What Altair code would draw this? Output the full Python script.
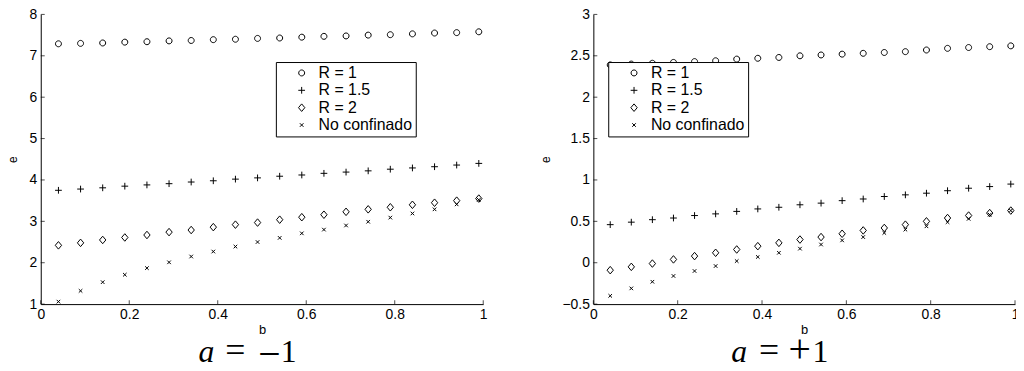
import altair as alt
import pandas as pd

# ---------------- data ----------------
B = [0.04, 0.09, 0.14, 0.19, 0.24, 0.29, 0.34, 0.39, 0.44, 0.49,
     0.54, 0.59, 0.64, 0.69, 0.74, 0.79, 0.84, 0.89, 0.94, 0.99]

SERIES = ["R = 1", "R = 1.5", "R = 2", "No confinado"]

# a = -1
L_R1 = [7.29, 7.30, 7.31, 7.33, 7.34, 7.36, 7.37, 7.39, 7.40, 7.42,
        7.43, 7.45, 7.47, 7.48, 7.50, 7.51, 7.53, 7.55, 7.56, 7.58]
L_R15 = [3.75, 3.78, 3.81, 3.85, 3.88, 3.91, 3.95, 3.98, 4.02, 4.05,
         4.09, 4.12, 4.16, 4.19, 4.22, 4.26, 4.29, 4.32, 4.36, 4.40]
L_R2 = [2.42, 2.48, 2.55, 2.61, 2.67, 2.74, 2.79, 2.86, 2.92, 2.97,
        3.04, 3.10, 3.16, 3.23, 3.29, 3.34, 3.40, 3.45, 3.50, 3.55]
L_NC = [1.06, 1.32, 1.53, 1.71, 1.87, 2.01, 2.15, 2.27, 2.39, 2.50,
        2.60, 2.71, 2.80, 2.90, 2.99, 3.09, 3.19, 3.29, 3.41, 3.52]

# a = +1
R_R1 = [2.39, 2.40, 2.41, 2.42, 2.43, 2.44, 2.46, 2.47, 2.48, 2.50,
        2.51, 2.52, 2.53, 2.54, 2.55, 2.57, 2.59, 2.60, 2.61, 2.62]
R_R15 = [0.46, 0.49, 0.52, 0.54, 0.57, 0.59, 0.62, 0.65, 0.67, 0.70,
         0.72, 0.75, 0.77, 0.80, 0.82, 0.84, 0.87, 0.90, 0.92, 0.95]
R_R2 = [-0.09, -0.05, -0.01, 0.04, 0.08, 0.12, 0.16, 0.20, 0.24, 0.28,
        0.31, 0.35, 0.39, 0.42, 0.46, 0.50, 0.54, 0.57, 0.60, 0.63]
R_NC = [-0.40, -0.31, -0.23, -0.16, -0.10, -0.04, 0.02, 0.07, 0.12, 0.17,
        0.22, 0.27, 0.31, 0.36, 0.40, 0.44, 0.49, 0.53, 0.58, 0.63]

X_TICKS = [0, 0.2, 0.4, 0.6, 0.8, 1]
Y_TICKS_LEFT = [1, 2, 3, 4, 5, 6, 7, 8]
Y_TICKS_RIGHT = [-0.5, 0, 0.5, 1, 1.5, 2, 2.5, 3]

# panel captions, split into glyphs: a  =  sign  1
TITLE_LEFT = ["a", "=", "\u2212", "1"]
TITLE_RIGHT = ["a", "=", "+", "1"]

# ---------------- styling ----------------
SHAPES = [
    "M0.75,0A0.75,0.75 0 1,1 -0.75,0A0.75,0.75 0 1,1 0.75,0Z",
    "M-0.85,0L0.85,0M0,-0.85L0,0.85",
    "M0,-0.95L0.8,0L0,0.95L-0.8,0Z",
    "M-0.45,-0.45L0.45,0.45M-0.45,0.45L0.45,-0.45",
]
SANS = "Liberation Sans"
SERIF = "Liberation Serif"
H = 292
CAPTION_SIZES = [32, 36, 40, 32]


def long_df(vals):
    rows = []
    for s, ys in zip(SERIES, vals):
        for b, e in zip(B, ys):
            rows.append({"b": b, "e": e, "series": s})
    return pd.DataFrame(rows)


def panel(df, ydom, yticks, width, height, legx, legy, title, tx, ty, tdy):
    xs = alt.Scale(domain=[0, 1], nice=False, zero=False)
    ys = alt.Scale(domain=ydom, nice=False, zero=False)
    xax = alt.Axis(values=X_TICKS, format="~g", title="b")
    yax = alt.Axis(values=yticks, format="~g", title="e")
    pts = alt.Chart(df).mark_point(
        filled=False, color="black", opacity=1, size=64, strokeWidth=1
    ).encode(
        x=alt.X("b:Q", scale=xs, axis=xax),
        y=alt.Y("e:Q", scale=ys, axis=yax),
        shape=alt.Shape(
            "series:N",
            scale=alt.Scale(domain=SERIES, range=SHAPES),
            legend=alt.Legend(
                title=None, orient="none", legendX=legx, legendY=legy,
                fillColor="white", strokeColor="black", padding=3,
                labelFont=SANS, labelFontSize=16, labelColor="black",
                symbolSize=64, symbolStrokeColor="black",
                symbolFillColor="transparent", symbolStrokeWidth=1,
                symbolOffset=15, labelOffset=9, rowPadding=1.5,
                cornerRadius=0,
            ),
        ),
    )
    ytk = alt.Chart(pd.DataFrame({"e": yticks})).mark_tick(
        orient="horizontal", size=4, thickness=1, color="black"
    ).encode(y=alt.Y("e:Q", scale=ys, axis=yax), x=alt.value(2))
    xtk = alt.Chart(pd.DataFrame({"b": X_TICKS})).mark_tick(
        orient="vertical", size=4, thickness=1, color="black"
    ).encode(x=alt.X("b:Q", scale=xs, axis=xax), y=alt.value(height - 2))
    base = alt.Chart(pd.DataFrame({"k": [0]}))
    layers = [pts, ytk, xtk]
    for i, (txt, x, fs, dy) in enumerate(zip(title, tx, CAPTION_SIZES, tdy)):
        layers.append(
            base.mark_text(
                text=txt, font=SERIF, fontSize=fs, align="center",
                baseline="alphabetic", color="black", dy=dy,
                fontStyle="italic" if i == 0 else "normal",
            ).encode(x=alt.value(x), y=alt.value(ty))
        )
    return alt.layer(*layers).properties(width=width, height=height)


left = panel(long_df([L_R1, L_R15, L_R2, L_NC]), [1, 8], Y_TICKS_LEFT,
             446, H, 237, 48, TITLE_LEFT, (167, 196, 230.5, 250), 350,
             (0, 0, 5, 0))
right = panel(long_df([R_R1, R_R15, R_R2, R_NC]), [-0.5, 3], Y_TICKS_RIGHT,
              425, H, 15, 48, TITLE_RIGHT, (147, 177, 208, 229), 350,
              (0, 0, 0, 0))

chart = alt.hconcat(left, right, spacing=52).resolve_scale(
    shape="independent", x="independent", y="independent"
).resolve_legend(shape="independent").properties(
    padding={"left": -2, "top": -2, "right": -3, "bottom": 0},
    background="white",
).configure_view(stroke=None).configure_axis(
    grid=False, ticks=False, domainColor="black", domainWidth=1,
    labelFont=SANS, labelFontSize=14, labelColor="black", labelPadding=4,
    titleFont=SANS, titleFontSize=13, titleFontWeight="normal",
    titleColor="black",
).configure_axisX(titlePadding=2, labelFlush=False).configure_axisY(
    titlePadding=10, titleAngle=270, titleFontSize=12
)

chart.save("out.html", embed_options={"renderer": "svg", "actions": False})
